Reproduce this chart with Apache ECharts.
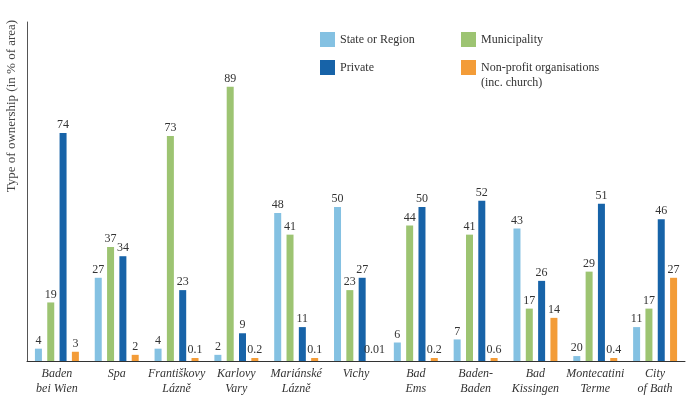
<!DOCTYPE html>
<html><head><meta charset="utf-8">
<script src="https://cdn.jsdelivr.net/npm/echarts@6/dist/echarts.min.js"></script>
<style>html,body{margin:0;padding:0;background:#fff}#c{width:700px;height:396px}</style>
</head><body><div id="c"></div>
<script>
const categories = ["Baden\nbei Wien","Spa","Františkovy\nLázně","Karlovy\nVary","Mariánské\nLázně","Vichy","Bad\nEms","Baden-\nBaden","Bad\nKissingen","Montecatini\nTerme","City\nof Bath"];
const seriesNames = ["State or Region","Municipality","Private","Non-profit organisations"];
const legendSubtitle = "(inc. church)";
const stateValues = [4,27,4,2,48,50,6,7,43,1.6,11];
const stateLabels = ["4","27","4","2","48","50","6","7","43","20","11"];
const municipalityValues = [19,37,73,89,41,23,44,41,17,29,17];
const privateValues = [74,34,23,9,11,27,50,52,26,51,46];
const nonProfitValues = [3,2,0.1,0.2,0.1,0.01,0.2,0.6,14,0.4,27];
const colors = ["#84c1e2","#9dc472","#1763a8","#f39c38"];

const font = "'Liberation Serif','DejaVu Serif',serif";
const chart = echarts.init(document.getElementById('c'));
function mk(i, data, labels){
  return {
    name: seriesNames[i], type: 'bar', data: data,
    barWidth: 7, barGap: '76%', barMinHeight: i===3 ? 3 : 0,
    itemStyle: {color: i===3 ? (p => p.value < 0.05 ? 'rgba(0,0,0,0)' : colors[3]) : colors[i]},
    label: {show: true, position: 'top', distance: 2, color: '#333', fontFamily: font, fontSize: 12,
      formatter: p => labels ? labels[p.dataIndex] : String(p.value)}
  };
}
chart.setOption({
  backgroundColor: '#fff',
  animation: false,
  textStyle: {fontFamily: font},
  grid: {left: 27, right: 15, top: 22, bottom: 34},
  legend: [
    {orient: 'vertical', left: 315, top: 27, itemWidth: 15, itemHeight: 15, itemGap: 13,
     icon: 'rect', data: [{name: seriesNames[0], itemStyle: {color: colors[0]}}, {name: seriesNames[2], itemStyle: {color: colors[2]}}],
     textStyle: {fontFamily: font, fontSize: 12, color: '#333'}},
    {orient: 'vertical', left: 456, top: 27, itemWidth: 15, itemHeight: 15, itemGap: 13,
     icon: 'rect', data: [{name: seriesNames[1], itemStyle: {color: colors[1]}}, {name: seriesNames[3], itemStyle: {color: colors[3]}}],
     textStyle: {fontFamily: font, fontSize: 12, color: '#333'}}
  ],
  graphic: [
    {type: 'text', x: 12, y: 106, rotation: Math.PI/2,
     style: {text: 'Type of ownership (in % of area)', fontFamily: font, fontSize: 13, fill: '#444', align: 'center', verticalAlign: 'middle'}},
    {type: 'text', x: 481, y: 83,
     style: {text: legendSubtitle, fontFamily: font, fontSize: 12, fill: '#333', align: 'left', verticalAlign: 'middle'}}
  ],
  xAxis: {type: 'category', data: categories,
    axisLine: {lineStyle: {color: '#333', width: 1}}, axisTick: {show: false},
    axisLabel: {interval: 0, margin: 5, fontFamily: font, fontStyle: 'italic', fontSize: 12, color: '#333', lineHeight: 15, verticalAlign: 'top'}},
  yAxis: {type: 'value', min: 0, max: 110, splitLine: {show: false},
    axisLine: {show: true, lineStyle: {color: '#555'}}, axisTick: {show: false}, axisLabel: {show: false}},
  series: [mk(0, stateValues, stateLabels), mk(1, municipalityValues), mk(2, privateValues), mk(3, nonProfitValues)]
});
</script></body></html>
